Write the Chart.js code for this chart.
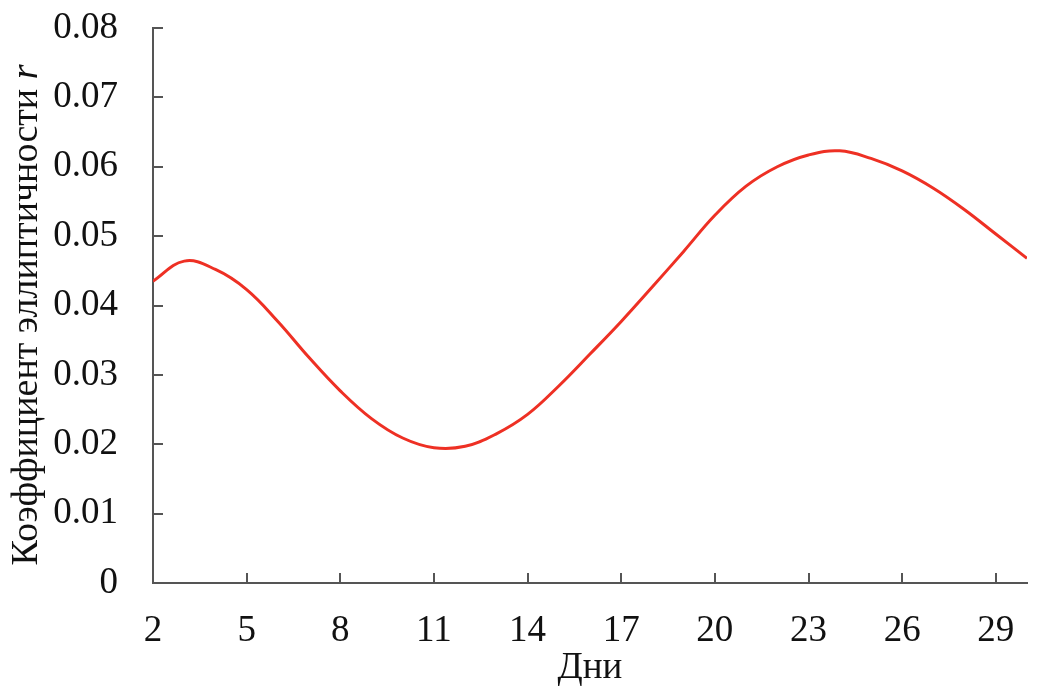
<!DOCTYPE html>
<html>
<head>
<meta charset="utf-8">
<script src="https://cdn.jsdelivr.net/npm/chart.js"></script>
<style>
  html, body { margin: 0; padding: 0; background: #fff; }
  #wrap { width: 1041px; height: 694px; }
</style>
</head>
<body>
<div id="wrap"><canvas id="ellChart"></canvas></div>
<script>
// данные
const days = [2, 3, 4, 5, 6, 7, 8, 9, 10, 11, 12, 13, 14, 15, 16, 17, 18, 19, 20, 21, 22, 23, 24, 25, 26, 27, 28, 29, 30];
const ratio = [0.0435, 0.0464, 0.0452, 0.0423, 0.0377, 0.0325, 0.0277, 0.0237, 0.0209, 0.0195, 0.0197, 0.0215, 0.0243, 0.0284, 0.0330, 0.0377, 0.0427, 0.0478, 0.0530, 0.0572, 0.0600, 0.0617, 0.0623, 0.0612, 0.0594, 0.0569, 0.0538, 0.0503, 0.0468];
const xTicks = [2, 5, 8, 11, 14, 17, 20, 23, 26, 29];
const yTicks = [0, 0.01, 0.02, 0.03, 0.04, 0.05, 0.06, 0.07, 0.08];
const yTitle = 'Коэффициент эллиптичности ';
const yTitleVar = 'r';
const xTitle = 'Дни';

const fontFamily = '"Liberation Serif", "DejaVu Serif", serif';
const axisColor = '#555555';

// короткие засечки внутрь области графика + подпись оси Y с курсивной r
const innerTicks = {
    id: 'innerTicks',
    afterDraw(chart) {
        const ctx = chart.ctx;
        const area = chart.chartArea;
        const xs = chart.scales.x, ys = chart.scales.y;
        ctx.save();
        ctx.strokeStyle = axisColor;
        ctx.lineWidth = 2;
        ctx.beginPath();
        xTicks.forEach(v => {
            const px = Math.round(xs.getPixelForValue(v));
            ctx.moveTo(px, area.bottom);
            ctx.lineTo(px, area.bottom - 10);
        });
        yTicks.forEach(v => {
            const py = Math.round(ys.getPixelForValue(v));
            ctx.moveTo(area.left, py);
            ctx.lineTo(area.left + 10, py);
        });
        ctx.stroke();

        // подпись оси Y
        const size = 38;
        ctx.fillStyle = '#111';
        ctx.textBaseline = 'middle';
        ctx.font = size + 'px ' + fontFamily;
        const w1 = ctx.measureText(yTitle).width;
        ctx.font = 'italic ' + size + 'px ' + fontFamily;
        const w2 = ctx.measureText(yTitleVar).width;
        const cy = 315;
        ctx.translate(27, cy);
        ctx.rotate(-Math.PI / 2);
        const start = -(w1 + w2) / 2;
        ctx.textAlign = 'left';
        ctx.font = size + 'px ' + fontFamily;
        ctx.fillText(yTitle, start, 0);
        ctx.font = 'italic ' + size + 'px ' + fontFamily;
        ctx.fillText(yTitleVar, start + w1, 0);
        ctx.restore();
    }
};

const ctx = document.getElementById('ellChart').getContext('2d');
new Chart(ctx, {
    type: 'line',
    data: {
        datasets: [{
            data: days.map((d, i) => ({ x: d, y: ratio[i] })),
            borderColor: 'rgb(238, 48, 36)',
            borderWidth: 3,
            pointRadius: 0,
            tension: 0.4,
            fill: false
        }]
    },
    options: {
        responsive: true,
        maintainAspectRatio: false,
        animation: false,
        layout: { autoPadding: false, padding: { top: 28, right: 14, left: 0, bottom: 0 } },
        plugins: {
            legend: { display: false },
            tooltip: { enabled: false }
        },
        scales: {
            x: {
                type: 'linear',
                min: 2,
                max: 30,
                afterBuildTicks: (scale) => { scale.ticks = xTicks.map(v => ({ value: v })); },
                afterFit: (scale) => { scale.height = 111; scale.paddingLeft = 0; scale.paddingRight = 0; },
                grid: { display: true, drawOnChartArea: false, drawTicks: false },
                border: { display: true, color: axisColor, width: 2 },
                ticks: {
                    color: '#111',
                    padding: 26,
                    maxRotation: 0,
                    autoSkip: false,
                    font: { family: fontFamily, size: 37 }
                },
                title: {
                    display: true,
                    text: xTitle,
                    color: '#111',
                    font: { family: fontFamily, size: 37 },
                    padding: { top: 0, bottom: 4 }
                }
            },
            y: {
                type: 'linear',
                min: 0,
                max: 0.08,
                afterBuildTicks: (scale) => { scale.ticks = yTicks.map(v => ({ value: v })); },
                afterFit: (scale) => { scale.width = 153; scale.paddingTop = 0; scale.paddingBottom = 0; },
                grid: { display: true, drawOnChartArea: false, drawTicks: false },
                border: { display: true, color: axisColor, width: 2 },
                ticks: {
                    color: '#111',
                    padding: 35,
                    autoSkip: false,
                    font: { family: fontFamily, size: 37 },
                    callback: (v) => v === 0 ? '0' : v.toFixed(2)
                }
            }
        }
    },
    plugins: [innerTicks]
});
</script>
</body>
</html>
